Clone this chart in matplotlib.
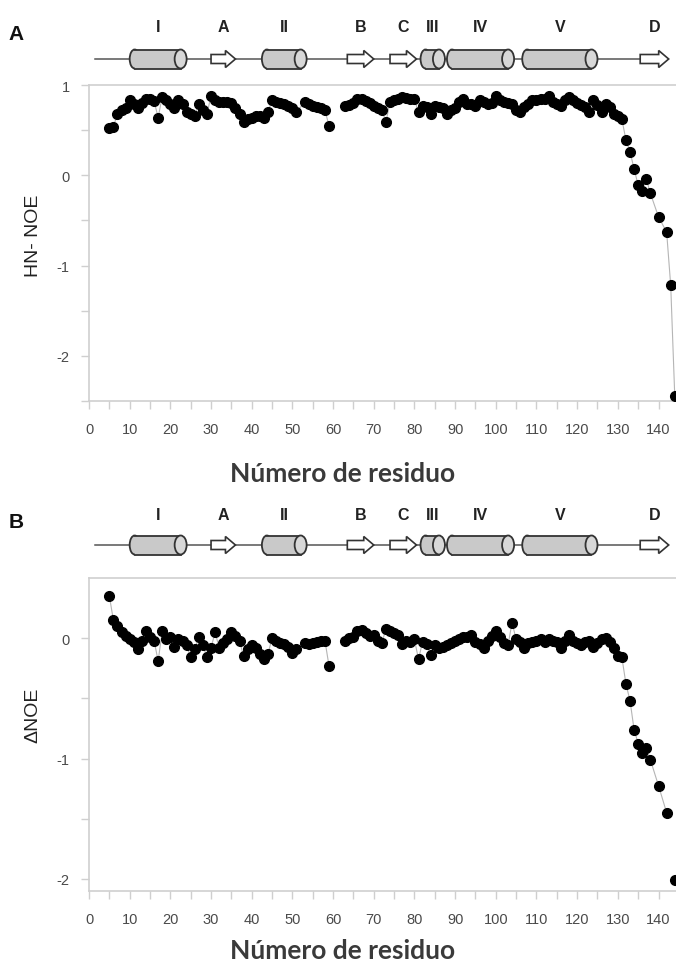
import numpy as np
import matplotlib
matplotlib.use("Agg")
import matplotlib.pyplot as plt
from matplotlib.patches import FancyBboxPatch, Ellipse, Polygon

plt.rcParams["axes.unicode_minus"] = False

# ---------------------------------------------------------------- data
residues = [5, 6, 7, 8, 9, 10, 11, 12, 13, 14, 15, 16, 17, 18, 19, 20,
            21, 22, 23, 24, 25, 26, 27, 28, 29, 30, 31, 32, 33, 34, 35, 36,
            37, 38, 39, 40, 41, 42, 43, 44, 45, 46, 47, 48, 49, 50, 51,
            53, 54, 55, 56, 57, 58, 59, 60,
            63, 64, 65, 66, 67, 68, 69, 70, 71, 72, 73, 74, 75, 76, 77, 78,
            79, 80, 81, 82, 83, 84, 85, 86, 87, 88, 89, 90, 91, 92, 93, 94,
            95, 96, 97, 98, 99, 100, 101, 102, 103, 104, 105, 106, 107, 108,
            109, 110, 111, 112, 113, 114, 115, 116, 117, 118, 119, 120, 121,
            122, 123, 124, 125, 126, 127, 128, 129, 130, 131, 132, 133, 134,
            135, 136, 137, 138, 140, 142, 143, 144]

# heteronuclear NOE (residue 60 left empty: break in the trace)
hn_noe = [0.52, 0.54, 0.68, 0.72, 0.74, 0.83, 0.79, 0.75, 0.80, 0.84, 0.85, 0.82,
          0.64, 0.87, 0.83, 0.79, 0.74, 0.83, 0.79, 0.70, 0.68, 0.66, 0.79, 0.72,
          0.68, 0.88, 0.83, 0.81, 0.81, 0.81, 0.80, 0.74, 0.68, 0.59, 0.62, 0.64,
          0.66, 0.66, 0.64, 0.70, 0.83, 0.81, 0.80, 0.79, 0.77, 0.74, 0.70,
          0.81, 0.79, 0.77, 0.76, 0.74, 0.72, 0.55, np.nan,
          0.77, 0.78, 0.80, 0.84, 0.85, 0.82, 0.80, 0.77, 0.74, 0.72, 0.59, 0.81,
          0.83, 0.85, 0.87, 0.86, 0.85, 0.84, 0.70, 0.77, 0.76, 0.68, 0.77, 0.76,
          0.74, 0.68, 0.72, 0.74, 0.81, 0.84, 0.79, 0.79, 0.77, 0.83, 0.81, 0.79,
          0.80, 0.88, 0.83, 0.81, 0.80, 0.79, 0.72, 0.70, 0.76, 0.79, 0.83, 0.83,
          0.84, 0.85, 0.88, 0.81, 0.79, 0.77, 0.83, 0.87, 0.83, 0.80, 0.78, 0.76,
          0.70, 0.83, 0.78, 0.70, 0.79, 0.76, 0.68, 0.66, 0.62, 0.39, 0.26, 0.07,
          -0.11, -0.17, -0.04, -0.20, -0.46, -0.63, -1.22, -2.45]

# NOE difference
delta_noe = [0.35, 0.15, 0.10, 0.05, 0.02, -0.01, -0.03, -0.09, -0.02, 0.06, 0.01,
             -0.02, -0.19, 0.06, -0.01, 0.01, -0.07, -0.01, -0.02, -0.06, -0.16,
             -0.09, 0.01, -0.06, -0.16, -0.08, 0.05, -0.08, -0.04, -0.01, 0.05,
             0.02, -0.02, -0.15, -0.09, -0.06, -0.08, -0.13, -0.17, -0.13, 0.00,
             -0.02, -0.04, -0.05, -0.07, -0.12, -0.09,
             -0.04, -0.05, -0.04, -0.03, -0.02, -0.02, -0.23, np.nan,
             -0.02, 0.00, 0.01, 0.06, 0.07, 0.04, 0.02, 0.03, -0.02, -0.04, 0.08,
             0.06, 0.04, 0.03, -0.05, -0.02, -0.03, -0.01, -0.175, -0.03, -0.05,
             -0.14, -0.06, -0.08, -0.07, -0.06, -0.04, -0.02, -0.01, 0.01, 0.01,
             0.03, -0.03, -0.05, -0.08, -0.02, 0.02, 0.06, 0.01, -0.04, -0.06,
             0.13, -0.01, -0.03, -0.08, -0.04, -0.03, -0.02, -0.01, -0.03, -0.01,
             -0.02, -0.03, -0.08, -0.02, 0.03, -0.02, -0.04, -0.06, -0.03, -0.02,
             -0.07, -0.04, -0.01, 0.00, -0.03, -0.08, -0.15, -0.16, -0.38, -0.52,
             -0.76, -0.875, -0.95, -0.91, -1.01, -1.225, -1.45, np.nan, -2.01]

# secondary structure elements (residue ranges)
helix_names = ["I", "II", "III", "IV", "V"]
helix_start = [10, 42.5, 81.5, 88, 106.5]
helix_end = [24, 53.5, 87.5, 104.5, 125]
strand_names = ["A", "B", "C", "D"]
strand_start = [30, 63.5, 74, 135.5]
strand_end = [36, 70, 80.5, 142.5]
chain_start = 1.5

x_ticks = list(range(0, 141, 10))

# ---------------------------------------------------------------- layout
W, H = 676, 970
fig = plt.figure(figsize=(W / 100, H / 100), dpi=100)
XMIN, XMAX = 0, 144.3
LEFT = 89
SANS = ["Liberation Sans", "DejaVu Sans"]


def fig_rect(x0, y_top, x1, y_bot):
    return [x0 / W, 1 - y_bot / H, (x1 - x0) / W, (y_bot - y_top) / H]


SPINE = "#cfcfcf"


def style_axes(ax, ylim, yticks, yminor):
    ax.set_xlim(XMIN, XMAX)
    ax.set_ylim(*ylim)
    ax.set_xticks(x_ticks)
    ax.set_xticks(np.arange(5, 145, 10), minor=True)
    ax.set_yticks(yticks)
    ax.set_yticks(yminor, minor=True)
    for s in ("left", "bottom", "top"):
        ax.spines[s].set_color(SPINE)
        ax.spines[s].set_linewidth(1.2)
    ax.spines["right"].set_visible(False)
    ax.tick_params(which="both", direction="out", length=6, width=1, color=SPINE)
    ax.tick_params(axis="x", pad=9)
    ax.tick_params(axis="y", pad=8)
    for lab in ax.get_xticklabels() + ax.get_yticklabels():
        lab.set_fontfamily(SANS)
        lab.set_fontsize(10.5)
        lab.set_color("#4a4a4a")
    ax.set_facecolor("white")


def plot_trace(ax, x, y):
    ax.plot(x, y, color="#b5b5b5", lw=0.8, zorder=2)
    ax.plot(x, y, "o", color="black", ms=7, mec="black", zorder=3)


def draw_topology(y_label, y_line):
    # strip spanning the data x-range, measured in pixels vertically
    rect = fig_rect(LEFT, y_label - 15, W, y_line + 15)
    ax = fig.add_axes(rect)
    ax.set_xlim(XMIN, XMAX)
    hpx = rect[3] * H
    ax.set_ylim(hpx, 0)
    ax.axis("off")
    rpx = (XMAX - XMIN) / (rect[2] * W)   # residues per pixel
    yc = y_line - (y_label - 15)
    yl = 15
    ax.plot([chain_start, strand_end[-1] - 4 * rpx], [yc, yc], color="#555555", lw=1.1, zorder=1)
    h = 19
    ew = 12 * rpx
    for name, a, b in zip(helix_names, helix_start, helix_end):
        ax.add_patch(Polygon([[a + 5 * rpx, yc - h / 2], [b - ew / 2, yc - h / 2],
                              [b - ew / 2, yc + h / 2], [a + 5 * rpx, yc + h / 2]],
                             closed=True, fc="#c9c9c9", ec="none", zorder=2))
        ax.add_patch(Ellipse((a + 5 * rpx, yc), 10 * rpx, h, fc="#c9c9c9",
                             ec="#333333", lw=1.3, zorder=1.9))
        ax.plot([a + 5 * rpx, b - ew / 2], [yc + h / 2, yc + h / 2], color="#333333", lw=1.3, zorder=3)
        ax.plot([a + 5 * rpx, b - ew / 2], [yc - h / 2, yc - h / 2], color="#333333", lw=1.3, zorder=3)
        ax.add_patch(Ellipse((b - ew / 2, yc), ew, h, fc="#d8d8d8",
                             ec="#333333", lw=1.3, zorder=4))
        ax.text((a + b) / 2, yl, name, ha="center", va="center",
                fontsize=11.5, fontweight="bold", color="#222222", family=SANS)
    for name, a, b in zip(strand_names, strand_start, strand_end):
        tail_h, head_h = 9, 17
        head_len = 10 * rpx
        pts = [[a, yc - tail_h / 2], [b - head_len, yc - tail_h / 2],
               [b - head_len, yc - head_h / 2], [b, yc],
               [b - head_len, yc + head_h / 2], [b - head_len, yc + tail_h / 2],
               [a, yc + tail_h / 2]]
        ax.add_patch(Polygon(pts, closed=True, fc="white", ec="#333333", lw=1.2, zorder=3))
        ax.text((a + b) / 2, yl, name, ha="center", va="center",
                fontsize=11.5, fontweight="bold", color="#222222", family=SANS)
    return ax


label_font = dict(family=["Lato", "DejaVu Sans"], fontsize=19, fontweight="bold", color="#3a3a3a")
ylab_font = dict(family=SANS, fontsize=14, color="#222222")

# ---------------------------------------------------------------- panel A
axA = fig.add_axes(fig_rect(LEFT, 86, W, 402))
plot_trace(axA, residues, hn_noe)
style_axes(axA, (-2.5, 1.0), [-2, -1, 0, 1], [-2.5, -1.5, -0.5, 0.5])
fig.text(33 / W, 1 - 236 / H, "HN- NOE", rotation=90, ha="center", va="center", **ylab_font)
fig.text(343 / W, 1 - 474 / H, "Número de residuo", ha="center", va="center", **label_font)
draw_topology(27, 60)
fig.text(16 / W, 1 - 34 / H, "A", ha="center", va="center", fontsize=15,
         fontweight="bold", family=SANS, color="#111111")

# ---------------------------------------------------------------- panel B
axB = fig.add_axes(fig_rect(LEFT, 579, W, 892))
plot_trace(axB, residues, delta_noe)
style_axes(axB, (-2.1, 0.5), [-2, -1, 0], [-1.5, -0.5])
fig.text(33 / W, 1 - 715 / H, "ΔNOE", rotation=90, ha="center", va="center", **ylab_font)
fig.text(343 / W, 1 - 951 / H, "Número de residuo", ha="center", va="center", **label_font)
draw_topology(515, 546)
fig.text(16 / W, 1 - 523 / H, "B", ha="center", va="center", fontsize=15,
         fontweight="bold", family=SANS, color="#111111")

fig.savefig("out.png", dpi=100, facecolor="white")
